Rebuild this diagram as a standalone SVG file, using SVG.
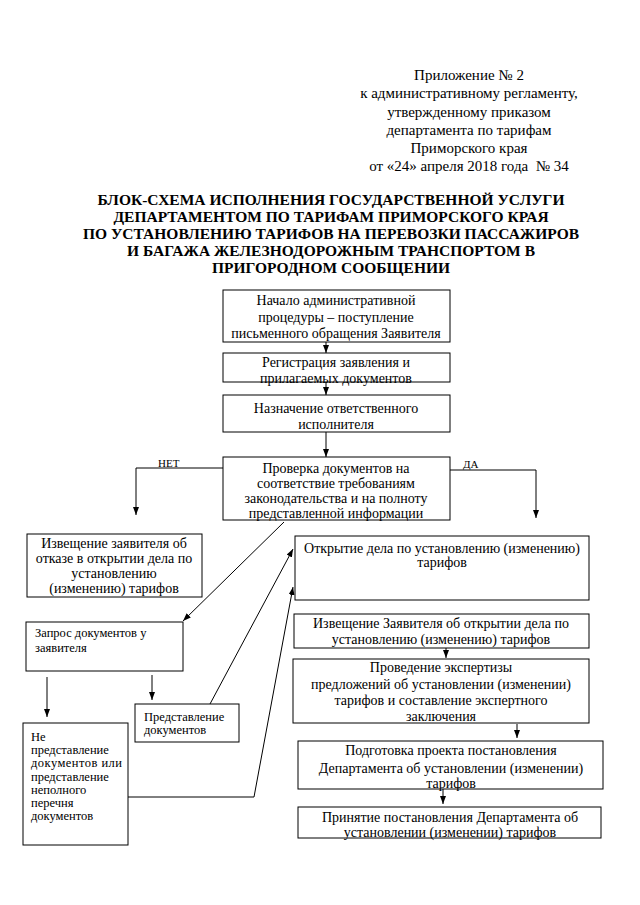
<svg xmlns="http://www.w3.org/2000/svg" width="640" height="905" viewBox="0 0 640 905">
<defs>
<marker id="ah" markerUnits="userSpaceOnUse" markerWidth="8" markerHeight="6" refX="8" refY="3" orient="auto">
<path d="M0,0 L8,3 L0,6 z" fill="#000"/>
</marker>
<style>
.t{font-family:"Liberation Serif","Times New Roman",serif;fill:#000}
.h{font-size:15px;text-anchor:middle}
.ttl{font-size:15.5px;font-weight:bold;text-anchor:middle}
.b{font-size:14px;text-anchor:middle}
.s{font-size:12.5px}
.lbl{font-size:11px}
.box{fill:#fff;stroke:#000;stroke-width:1}
.c{fill:none;stroke:#000;stroke-width:1}
.a{marker-end:url(#ah)}
</style>
</defs>
<rect width="640" height="905" fill="#fff"/>
<g id="header" class="t h">
<text x="469" y="80">Приложение № 2</text>
<text x="469" y="98">к административному регламенту,</text>
<text x="469" y="117">утвержденному приказом</text>
<text x="469" y="135">департамента по тарифам</text>
<text x="469" y="153">Приморского края</text>
<text x="469" y="171" xml:space="preserve">от «24» апреля 2018 года  № 34</text>
</g>
<g id="title" class="t ttl">
<text x="331" y="205">БЛОК-СХЕМА ИСПОЛНЕНИЯ ГОСУДАРСТВЕННОЙ УСЛУГИ</text>
<text x="331" y="222">ДЕПАРТАМЕНТОМ ПО ТАРИФАМ ПРИМОРСКОГО КРАЯ</text>
<text x="331" y="239">ПО УСТАНОВЛЕНИЮ ТАРИФОВ НА ПЕРЕВОЗКИ ПАССАЖИРОВ</text>
<text x="331" y="256">И БАГАЖА ЖЕЛЕЗНОДОРОЖНЫМ ТРАНСПОРТОМ В</text>
<text x="331" y="273">ПРИГОРОДНОМ СООБЩЕНИИ</text>
</g>
<g id="connectors">
<line class="c a" x1="326" y1="342" x2="326" y2="353"/>
<line class="c a" x1="326" y1="382" x2="326" y2="395"/>
<line class="c a" x1="326" y1="432" x2="326" y2="457"/>
<polyline class="c a" points="223,468 136,468 136,515"/>
<polyline class="c a" points="450,470 536,470 536,518"/>
<line class="c a" x1="284" y1="522" x2="183" y2="621"/>
<line class="c a" x1="47" y1="677" x2="47" y2="717"/>
<line class="c a" x1="152" y1="675" x2="152" y2="700"/>
<line class="c a" x1="210" y1="704" x2="293" y2="549"/>
<polyline class="c a" points="128,797 254,797 293,587"/>
<line class="c a" x1="446" y1="583" x2="446" y2="599"/>
<line class="c a" x1="446" y1="648" x2="446" y2="658"/>
<line class="c a" x1="517" y1="724" x2="517" y2="738"/>
<line class="c a" x1="443" y1="789" x2="443" y2="804"/>
<text class="t lbl" x="158" y="467">НЕТ</text>
<text class="t lbl" x="463" y="468">ДА</text>
</g>
<g id="n1">
<rect class="box" x="223" y="290" width="227" height="52"/>
<text class="t b" x="336" y="305">Начало административной</text>
<text class="t b" x="336" y="322">процедуры – поступление</text>
<text class="t b" x="336" y="338">письменного обращения Заявителя</text>
</g>
<g id="n2">
<rect class="box" x="223" y="353" width="227" height="29"/>
<text class="t b" x="336" y="367">Регистрация заявления и</text>
<text class="t b" x="336" y="383">прилагаемых документов</text>
</g>
<g id="n3">
<rect class="box" x="223" y="395" width="227" height="37"/>
<text class="t b" x="336" y="413">Назначение ответственного</text>
<text class="t b" x="336" y="429">исполнителя</text>
</g>
<g id="n4">
<rect class="box" x="223" y="457" width="227" height="63"/>
<text class="t b" x="336" y="473">Проверка документов на</text>
<text class="t b" x="336" y="488">соответствие требованиям</text>
<text class="t b" x="336" y="503">законодательства и на полноту</text>
<text class="t b" x="336" y="518">представленной информации</text>
</g>
<g id="n5">
<rect class="box" x="27" y="534" width="175" height="63"/>
<text class="t b" x="114" y="548">Извещение заявителя об</text>
<text class="t b" x="114" y="563">отказе в открытии дела по</text>
<text class="t b" x="114" y="578">установлению</text>
<text class="t b" x="114" y="593">(изменению) тарифов</text>
</g>
<g id="n6">
<rect class="box" x="26" y="622" width="157" height="49"/>
<text class="t s" x="35" y="637">Запрос документов у</text>
<text class="t s" x="35" y="652">заявителя</text>
</g>
<g id="n7">
<rect class="box" x="135" y="704" width="104" height="38"/>
<text class="t s" x="144" y="721">Представление</text>
<text class="t s" x="144" y="734">документов</text>
</g>
<g id="n8">
<rect class="box" x="23" y="723" width="105" height="122"/>
<text class="t s" x="31" y="741">Не</text>
<text class="t s" x="31" y="754">представление</text>
<text class="t s" x="31" y="767" textLength="91" lengthAdjust="spacing">документов или</text>
<text class="t s" x="31" y="781">представление</text>
<text class="t s" x="31" y="794">неполного</text>
<text class="t s" x="31" y="807">перечня</text>
<text class="t s" x="31" y="820">документов</text>
</g>
<g id="n9">
<rect class="box" x="295" y="536" width="294" height="64"/>
<text class="t b" x="442" y="553">Открытие дела по установлению (изменению)</text>
<text class="t b" x="442" y="567">тарифов</text>
</g>
<g id="n10">
<rect class="box" x="294" y="614" width="295" height="34"/>
<text class="t b" x="441" y="628">Извещение Заявителя об открытии дела по</text>
<text class="t b" x="441" y="644">установлению (изменению) тарифов</text>
</g>
<g id="n11">
<rect class="box" x="293" y="659" width="296" height="64"/>
<text class="t b" x="441" y="672">Проведение экспертизы</text>
<text class="t b" x="441" y="689">предложений об установлении (изменении)</text>
<text class="t b" x="441" y="705">тарифов и составление экспертного</text>
<text class="t b" x="441" y="721">заключения</text>
</g>
<g id="n12">
<rect class="box" x="298" y="741" width="305" height="48"/>
<text class="t b" x="451" y="755">Подготовка проекта постановления</text>
<text class="t b" x="451" y="773">Департамента об установлении (изменении)</text>
<text class="t b" x="451" y="788">тарифов</text>
</g>
<g id="n13">
<rect class="box" x="298" y="807" width="303" height="31"/>
<text class="t b" x="450" y="822">Принятие постановления Департамента об</text>
<text class="t b" x="450" y="837">установлении (изменении) тарифов</text>
</g>
</svg>
